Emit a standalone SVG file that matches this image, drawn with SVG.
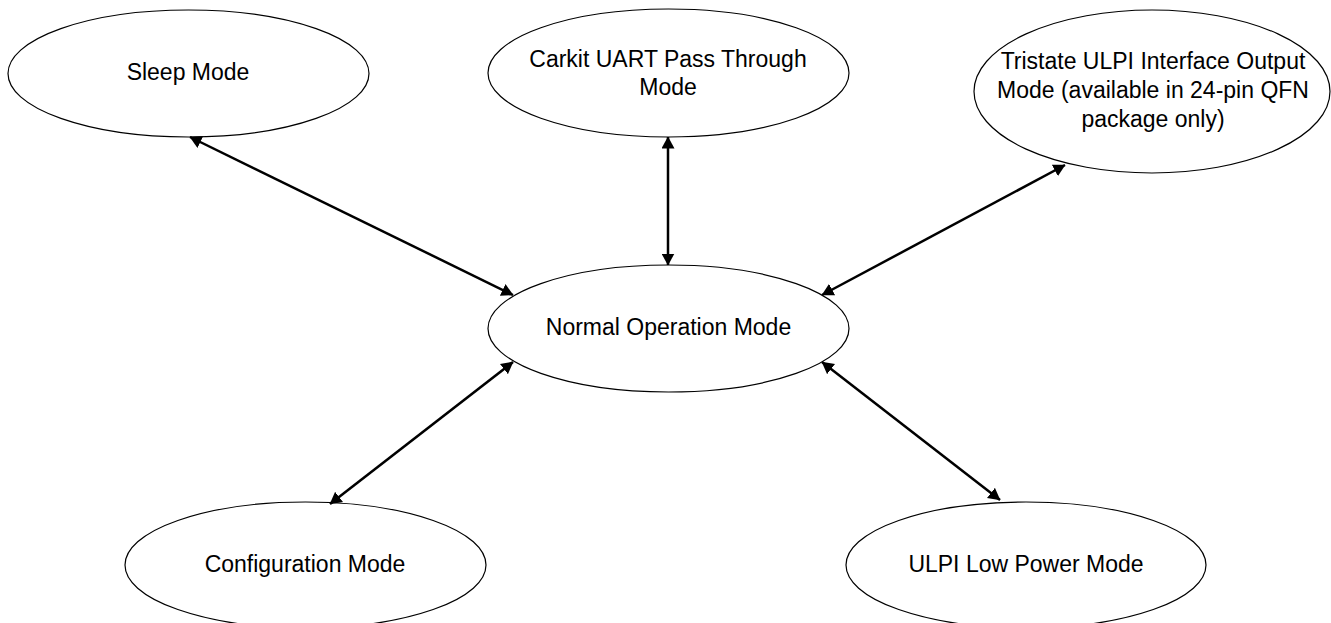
<svg xmlns="http://www.w3.org/2000/svg" width="1331" height="623" viewBox="0 0 1331 623">
<style>
.node ellipse{fill:#fff;stroke:#000;stroke-width:1.2}
.node text{font-family:"Liberation Sans",Arial,sans-serif;font-size:23px;fill:#000;text-anchor:middle}
.edge{stroke:#000;stroke-width:2.5;fill:none;marker-start:url(#ah);marker-end:url(#ah)}
</style>
<defs>
<marker id="ah" markerUnits="userSpaceOnUse" markerWidth="12" markerHeight="13" refX="11.5" refY="6.5" orient="auto-start-reverse" viewBox="0 0 12 13">
<path d="M0,0 L12,6.5 L0,13 Z" fill="#000"/>
</marker>
</defs>
<rect width="1331" height="623" fill="#fff"/>
<g id="sleep" class="node"><ellipse cx="188.5" cy="73.5" rx="180.5" ry="63.5"/><text x="188" y="80">Sleep Mode</text></g>
<g id="carkit" class="node"><ellipse cx="668.5" cy="73" rx="180.5" ry="64"/><text x="668" y="67">Carkit UART Pass Through</text><text x="668" y="95">Mode</text></g>
<g id="tristate" class="node"><ellipse cx="1152" cy="91.5" rx="178" ry="81.5"/><text x="1153" y="69">Tristate ULPI Interface Output</text><text x="1153" y="98">Mode (available in 24-pin QFN</text><text x="1153" y="127">package only)</text></g>
<g id="normal" class="node"><ellipse cx="668.5" cy="328.5" rx="180.5" ry="63.5"/><text x="668.5" y="335">Normal Operation Mode</text></g>
<g id="config" class="node"><ellipse cx="305.5" cy="565" rx="180.5" ry="63"/><text x="305" y="572">Configuration Mode</text></g>
<g id="ulpilp" class="node"><ellipse cx="1026" cy="565" rx="180" ry="63"/><text x="1026" y="572">ULPI Low Power Mode</text></g>
<g id="connectors">
<line class="edge" x1="190" y1="137" x2="513" y2="295"/>
<line class="edge" x1="668" y1="137" x2="668" y2="265"/>
<line class="edge" x1="1065" y1="165" x2="822" y2="295"/>
<line class="edge" x1="330" y1="504" x2="513" y2="362"/>
<line class="edge" x1="1000" y1="500" x2="822" y2="362"/>
</g>
</svg>
